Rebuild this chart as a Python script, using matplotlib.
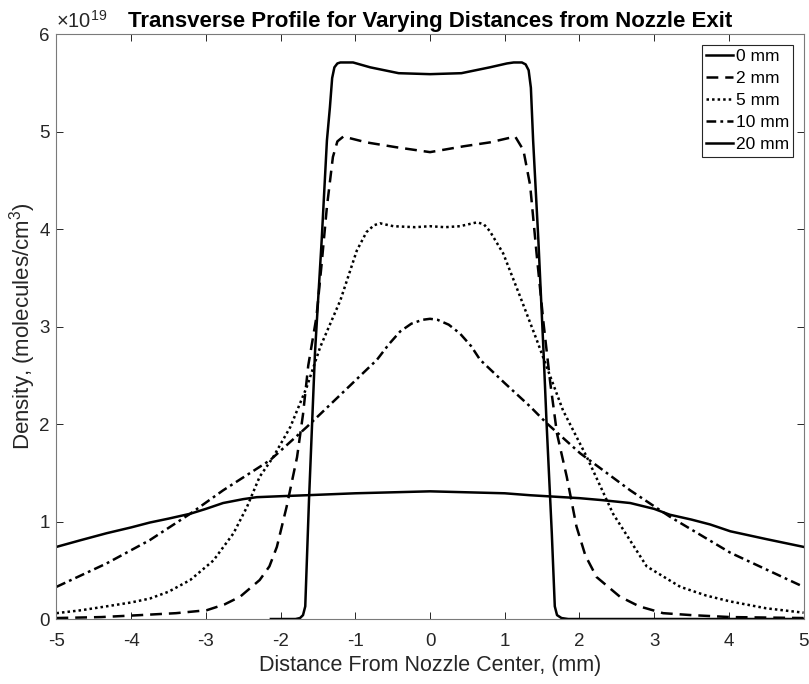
import numpy as np
import matplotlib
matplotlib.use('Agg')
import matplotlib.pyplot as plt

plt.rcParams['font.family'] = ['Liberation Sans', 'DejaVu Sans']
plt.rcParams['mathtext.fontset'] = 'custom'
plt.rcParams['mathtext.rm'] = 'Liberation Sans'
plt.rcParams['mathtext.it'] = 'Liberation Sans'
plt.rcParams['lines.scale_dashes'] = False
plt.rcParams['axes.unicode_minus'] = False

# density in units of 1e19 molecules/cm^3
x0 = [-2.13, -1.80, -1.74, -1.70, -1.67, -1.62, -1.54, -1.45, -1.38, -1.34, -1.31, -1.28, -1.24,
      -1.20, -1.03, -0.80, -0.42, 0.0, 0.42, 0.80, 1.03, 1.12, 1.23, 1.28, 1.32, 1.35, 1.38, 1.45,
      1.52, 1.56, 1.63, 1.67, 1.70, 1.76, 1.85, 3.0, 5.0]
y0 = [0.0, 0.0, 0.01, 0.04, 0.13, 1.22, 2.73, 3.89, 4.91, 5.25, 5.55, 5.66, 5.70,
      5.71, 5.71, 5.66, 5.60, 5.59, 5.60, 5.66, 5.70, 5.71, 5.71, 5.69, 5.63, 5.45, 4.91, 3.89,
      2.73, 2.01, 0.88, 0.13, 0.04, 0.01, 0.0, 0.0, 0.0]

x2 = [-5.0, -4.4, -3.88, -3.4, -2.99, -2.75, -2.54, -2.28, -2.15, -2.05, -1.92, -1.78, -1.70, -1.63,
      -1.52, -1.45, -1.38, -1.30, -1.24, -1.16, -0.85, -0.45, 0.0, 0.45, 0.80, 1.14, 1.25, 1.34,
      1.43, 1.52, 1.61, 1.70, 1.83, 1.96, 2.08, 2.23, 2.54, 2.80, 3.12, 3.5, 4.02, 5.0]
y2 = [0.01, 0.02, 0.04, 0.06, 0.09, 0.15, 0.23, 0.40, 0.54, 0.74, 1.15, 1.66, 2.10, 2.60,
      3.10, 3.65, 4.23, 4.74, 4.90, 4.95, 4.89, 4.84, 4.79, 4.85, 4.89, 4.95, 4.81, 4.45,
      3.72, 3.03, 2.42, 1.90, 1.46, 0.95, 0.65, 0.43, 0.23, 0.13, 0.06, 0.04, 0.02, 0.01]

x5 = [-5.0, -4.67, -4.33, -4.0, -3.75, -3.5, -3.21, -2.90, -2.63, -2.45, -2.28, -2.10, -1.87,
      -1.65, -1.47, -1.20, -0.98, -0.85, -0.75, -0.67, -0.49, -0.2, 0.0, 0.2, 0.40, 0.63, 0.72,
      0.80, 0.98, 1.20, 1.43, 1.56, 1.78, 2.10, 2.45, 2.90, 3.35, 3.70, 4.02, 4.5, 5.0]
y5 = [0.06, 0.09, 0.13, 0.17, 0.21, 0.28, 0.40, 0.60, 0.88, 1.15, 1.46, 1.66, 1.97,
      2.38, 2.79, 3.27, 3.78, 3.97, 4.04, 4.06, 4.03, 4.02, 4.03, 4.02, 4.03, 4.07, 4.05,
      3.98, 3.75, 3.32, 2.86, 2.59, 2.14, 1.66, 1.08, 0.54, 0.33, 0.24, 0.18, 0.11, 0.065]

x10 = [-5.0, -4.33, -3.75, -3.21, -2.77, -2.14, -1.65, -1.2, -0.71, -0.55, -0.40, -0.25, -0.1,
       0.0, 0.1, 0.25, 0.40, 0.55, 0.67, 1.0, 1.34, 1.56, 2.01, 2.68, 3.21, 4.02, 5.0]
y10 = [0.33, 0.57, 0.81, 1.08, 1.32, 1.63, 1.97, 2.30, 2.66, 2.82, 2.95, 3.03, 3.07,
       3.08, 3.07, 3.02, 2.93, 2.80, 2.66, 2.42, 2.18, 2.01, 1.70, 1.32, 1.05, 0.68, 0.33]

x20 = [-5.0, -4.67, -4.33, -4.0, -3.75, -3.5, -3.21, -3.0, -2.77, -2.5, -2.32, -2.0, -1.65, -1.0,
       -0.5, 0.0, 0.5, 1.0, 1.34, 2.0, 2.3, 2.68, 3.0, 3.21, 3.5, 3.75, 4.02, 4.5, 5.0]
y20 = [0.74, 0.81, 0.88, 0.94, 0.99, 1.03, 1.08, 1.13, 1.19, 1.23, 1.25, 1.26, 1.27, 1.29,
       1.30, 1.31, 1.30, 1.29, 1.27, 1.24, 1.22, 1.19, 1.13, 1.07, 1.02, 0.97, 0.90, 0.82, 0.74]

labels = ['0 mm', '2 mm', '5 mm', '10 mm', '20 mm']

fig = plt.figure(figsize=(8.09, 6.84), dpi=100)
ax = fig.add_axes([0.0698, 0.095, 0.9235, 0.855])

lw = 1.8
ax.plot(x0, y0, color='k', lw=lw, label=labels[0])
ax.plot(x2, y2, color='k', lw=lw, dashes=(8.5, 5), label=labels[1])
ax.plot(x5, y5, color='k', lw=lw, dashes=(1.8, 2.2), label=labels[2])
ax.plot(x10, y10, color='k', lw=lw, dashes=(7, 3, 2, 3), label=labels[3])
ax.plot(x20, y20, color='k', lw=lw, label=labels[4])

ax.set_xlim(-5, 5)
ax.set_ylim(0, 6)
ax.set_xticks(np.arange(-5, 6, 1))
ax.set_yticks(np.arange(0, 7, 1))
ax.tick_params(direction='in', top=True, right=True, length=5, width=0.7,
               colors='#262626', labelsize=13.5, labelcolor='#262626')
ax.tick_params(axis='x', pad=10)
ax.tick_params(axis='y', pad=5)
for s in ax.spines.values():
    s.set_color('#7a7a7a')
    s.set_linewidth(0.8)

ax.set_title('Transverse Profile for Varying Distances from Nozzle Exit',
             fontsize=16, fontweight='bold', pad=5)
ax.set_xlabel('Distance From Nozzle Center, (mm)', fontsize=15.5, color='#262626', labelpad=4)
ax.set_ylabel('Density, (molecules/cm$^3$)', fontsize=16, color='#262626', labelpad=1)
ax.text(0.0, 1.004, r'$\times10^{19}$', transform=ax.transAxes, fontsize=14.5,
        color='#262626', ha='left', va='bottom')

leg = ax.legend(loc='upper right', fontsize=12.5, handlelength=1.55, handletextpad=0.15,
                labelspacing=0.4, borderpad=0.25, borderaxespad=0.6, fancybox=False,
                framealpha=1)
leg.get_frame().set_edgecolor('#262626')
leg.get_frame().set_linewidth(0.8)

fig.savefig('out.png', dpi=100)
